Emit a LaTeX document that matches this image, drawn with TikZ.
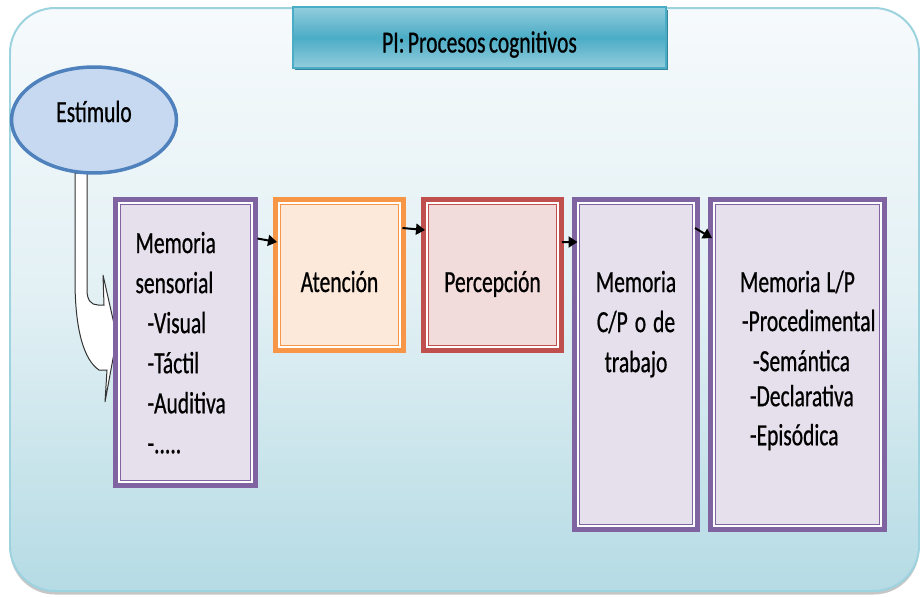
\documentclass[tikz,border=0pt]{standalone}
\usepackage{fontspec}
\setmainfont{Carlito}[FakeStretch=0.7, WordSpace=0.7, FakeBold=0.6]
\usetikzlibrary{shapes.geometric,arrows.meta,shadows}
\definecolor{bgtop}{HTML}{F6FAFC}
\definecolor{bgmid}{HTML}{E2F0F4}
\definecolor{bgbot}{HTML}{B5DBE4}
\definecolor{bgline}{HTML}{9DD2DF}
\definecolor{titlemid}{HTML}{4BACC6}
\definecolor{titlelight}{HTML}{93CDDD}
\definecolor{titleshade}{HTML}{31849B}
\definecolor{stimfill}{HTML}{C6D9F1}
\definecolor{stimline}{HTML}{4F81BD}
\definecolor{mpurple}{HTML}{8064A2}
\definecolor{mpurplefill}{HTML}{E5E0EC}
\definecolor{morange}{HTML}{F79646}
\definecolor{morangefill}{HTML}{FDE9D9}
\definecolor{mred}{HTML}{C0504D}
\definecolor{mredfill}{HTML}{F2DCDB}

\tikzset{
  txt/.style={font=\fontsize{17.5}{22.8}\selectfont, text=black},
  membox/.style 2 args={draw=#1, fill=#2, line width=0.1cm, outer sep=0pt, inner sep=0pt, txt,
    path picture={
      \draw[#1, line width=0.22cm] (path picture bounding box.north west) rectangle (path picture bounding box.south east);
      \draw[white, line width=0.18cm] (path picture bounding box.north west) rectangle (path picture bounding box.south east);
    }},
  flow/.style={-{Triangle[length=0.18cm,width=0.22cm]}, line width=0.04cm},
}

\begin{document}
\begin{tikzpicture}[x=0.02cm, y=-0.02cm]
\useasboundingbox (0,0) rectangle (920,596);
\draw[bgline, line width=0.04cm, rounded corners=0.9cm, top color=bgtop, bottom color=bgbot, middle color=bgmid,
  drop shadow={shadow xshift=0cm, shadow yshift=-0.07cm, opacity=0.45}] (10,8) rectangle (919,591);

\node[draw=titlemid, line width=0.03cm, top color=titlelight, bottom color=titlelight, middle color=titlemid,
  general shadow={fill=titleshade, shadow xshift=0.04cm, shadow yshift=-0.05cm},
  minimum width=7.46cm, minimum height=1.22cm, inner sep=0pt, text height=0.6cm, text depth=0pt, txt] (title) at (479.5,37.5) {PI: Procesos cognitivos};

\draw[black!80, line width=0.02cm, fill=white] (75,173) -- (87,173) -- (87,290) .. controls (87,300) and (91,305) .. (98,305) -- (104,305) -- (103,275) -- (117,337) -- (105,402) -- (107,370) -- (99,370) .. controls (84,360) and (75,330) .. (75,280) -- cycle;
\node[ellipse, draw=stimline, line width=0.07cm, fill=stimfill, minimum width=3.3cm, minimum height=2.12cm, inner sep=0pt,
  text height=0.44cm, text depth=0.36cm, txt] (stim) at (94,120) {Estímulo};

\node[membox={mpurple}{mpurplefill}, minimum width=2.8cm, minimum height=5.72cm, text width=2cm, align=left,
  text height=0.5cm, text depth=4.08cm] (sens) at (185.5,342.5)
  {Memoria\\sensorial\\\hspace*{0.24cm}-Visual\\\hspace*{0.24cm}-Táctil\\\hspace*{0.24cm}-Auditiva\\\hspace*{0.24cm}-.....};
\node[membox={morange}{morangefill}, minimum width=2.56cm, minimum height=3.02cm, text height=0.68cm, text depth=0pt] (aten) at (339.5,275) {Atención};
\node[membox={mred}{mredfill}, minimum width=2.76cm, minimum height=3.02cm, text height=0.68cm, text depth=0pt] (perc) at (492.5,275) {Percepción};
\node[membox={mpurple}{mpurplefill}, minimum width=2.46cm, minimum height=6.6cm, text width=2.4cm, align=center,
  text height=0.5cm, text depth=3.4cm] (cp) at (636,364.5) {Memoria\\C/P\hspace{0.14cm}o\hspace{0.14cm}de\\trabajo};
\node[membox={mpurple}{mpurplefill}, minimum width=3.48cm, minimum height=6.6cm, text width=2.7cm, align=left,
  text height=0.5cm, text depth=3.4cm] (lp) at (797.5,364.5)
  {\hspace*{0.2cm}Memoria\hspace{0.12cm}L/P\\[-0.02cm]\hspace*{0.24cm}\mbox{-Procedimental}\\[0cm]\hspace*{0.46cm}-Semántica\\[-0.1cm]\hspace*{0.4cm}-Declarativa\\[-0.02cm]\hspace*{0.4cm}-Episódica};

\draw[flow] ([shift={(2,39)}]sens.north east) -- ([shift={(1.5,42.5)}]aten.north west);
\draw[flow] ([shift={(-1,28.5)}]aten.north east) -- ([shift={(1.5,30.5)}]perc.north west);
\draw[flow] ([shift={(0.5,42.5)}]perc.north east) -- ([shift={(3,42.5)}]cp.north west);
\draw[flow] ([shift={(-2.5,28.5)}]cp.north east) -- ([shift={(1.5,38.5)}]lp.north west);
\end{tikzpicture}
\end{document}
